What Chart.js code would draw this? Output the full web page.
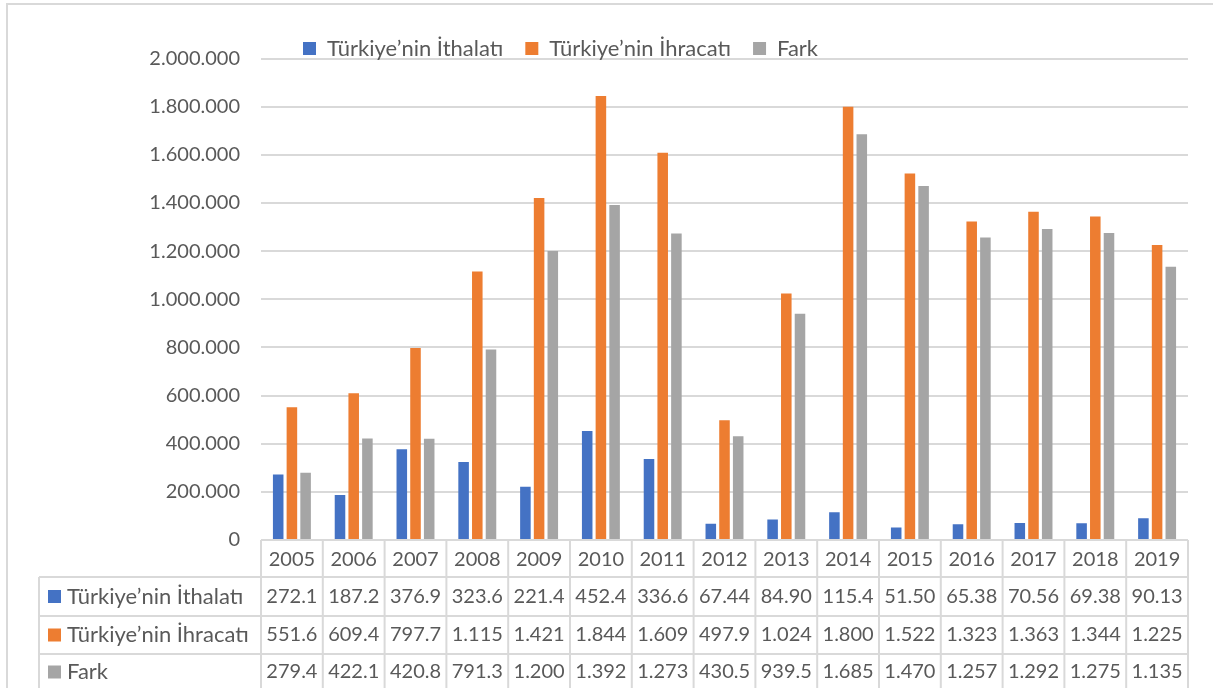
<!DOCTYPE html>
<html>
<head>
<meta charset="utf-8">
<script src="https://cdn.jsdelivr.net/npm/chart.js@4.4.0/dist/chart.umd.min.js"></script>
<style>
  html, body { margin: 0; padding: 0; background: #fff; }
  #wrap { width: 1213px; height: 688px; position: relative; }
</style>
</head>
<body>
<div id="wrap"><canvas id="tradeChart" width="1213" height="688"></canvas></div>
<script>
// =============================
// DATA
// =============================
const years = ['2005', '2006', '2007', '2008', '2009', '2010', '2011', '2012',
  '2013', '2014', '2015', '2016', '2017', '2018', '2019'];

const seriesNames = ['Türkiye’nin İthalatı', 'Türkiye’nin İhracatı', 'Fark'];

const ithalat = [272100, 187200, 376900, 323600, 221400, 452400, 336600, 67440,
  84900, 115400, 51500, 65380, 70560, 69380, 90130];

const ihracat = [551600, 609400, 797700, 1115000, 1421000, 1844000, 1609000, 497900,
  1024000, 1800000, 1522000, 1323000, 1363000, 1344000, 1225000];

const fark = [279400, 422100, 420800, 791300, 1200000, 1392000, 1273000, 430500,
  939500, 1685000, 1470000, 1257000, 1292000, 1275000, 1135000];

const yTicks = [0, 200000, 400000, 600000, 800000, 1000000, 1200000, 1400000,
  1600000, 1800000, 2000000];

const colors = ['#4472C4', '#ED7D31', '#A5A5A5'];
const textColor = '#595959';
const lineColor = '#d9d9d9';
const FONT = 'Lato';

// dotted thousands, e.g. 1844000 -> "1.844.000"
function dotted(v) {
  return Math.round(v).toString().replace(/\B(?=(\d{3})+(?!\d))/g, '.');
}
// table cells show only what fits (like the spreadsheet): "1.844", "272.1"
function cellText(v) {
  return dotted(v).slice(0, 5);
}

Chart.defaults.font.family = FONT;
Chart.defaults.font.size = 20;
Chart.defaults.color = textColor;

// =============================
// DATA TABLE + FRAME PLUGIN
// =============================
const dataTable = {
  id: 'dataTable',
  afterLayout(chart) {
    // put legend where the original has it
    const lg = chart.legend;
    const p = lg.options.labels.padding;
    const h = lg.height;
    lg.top = 47.5 - p - 10;
    lg.bottom = lg.top + h;
    const w = lg.width;
    lg.left = 303 - p;
    lg.right = lg.left + w;
  },
  beforeDraw(chart) {
    const ctx = chart.ctx;
    ctx.save();
    ctx.strokeStyle = lineColor;
    ctx.lineWidth = 2;
    ctx.beginPath();
    ctx.moveTo(7, chart.height);
    ctx.lineTo(7, 4);
    ctx.lineTo(chart.width, 4);
    ctx.stroke();
    ctx.restore();
  },
  afterDraw(chart) {
    const ctx = chart.ctx;
    const x = chart.scales.x;
    const area = chart.chartArea;
    const n = years.length;
    const cw = (area.right - area.left) / n;
    const tableLeft = 39;
    const rows = [area.bottom, 577, 616, 654, chart.height + 2];
    const sets = chart.data.datasets;

    ctx.save();
    ctx.strokeStyle = lineColor;
    ctx.lineWidth = 2;
    ctx.beginPath();
    // horizontal lines
    ctx.moveTo(area.left, rows[0]); ctx.lineTo(area.right, rows[0]);
    for (let r = 1; r < 4; r++) {
      ctx.moveTo(tableLeft, rows[r]); ctx.lineTo(area.right, rows[r]);
    }
    // vertical lines
    ctx.moveTo(tableLeft, rows[1]); ctx.lineTo(tableLeft, rows[4]);
    for (let i = 0; i <= n; i++) {
      const xx = i < n ? x.getPixelForValue(i) - cw / 2 : x.getPixelForValue(n - 1) + cw / 2;
      ctx.moveTo(xx, rows[0]); ctx.lineTo(xx, rows[4]);
    }
    ctx.stroke();

    ctx.fillStyle = textColor;
    ctx.font = '20px ' + FONT;
    ctx.textBaseline = 'middle';
    ctx.textAlign = 'center';
    // year row
    years.forEach((yr, i) => {
      ctx.fillText(yr, x.getPixelForValue(i), (rows[0] + rows[1]) / 2 + 1);
    });
    // series rows
    sets.forEach((ds, r) => {
      const cy = (rows[r + 1] + rows[r + 2]) / 2;
      ctx.fillStyle = ds.backgroundColor;
      ctx.fillRect(48, cy - 6.5, 13, 13);
      ctx.fillStyle = textColor;
      ctx.textAlign = 'left';
      ctx.font = '22px ' + FONT;
      ctx.fillText(ds.label, 67, cy);
      ctx.textAlign = 'center';
      ctx.font = '20px ' + FONT;
      ds.data.forEach((v, i) => {
        ctx.fillText(cellText(v), x.getPixelForValue(i), cy);
      });
    });
    ctx.restore();
  }
};

// =============================
// CHART
// =============================
const ctx = document.getElementById('tradeChart').getContext('2d');

window.tradeChart = new Chart(ctx, {
  type: 'bar',
  data: {
    labels: years,
    datasets: [
      { label: seriesNames[0], data: ithalat, backgroundColor: colors[0] },
      { label: seriesNames[1], data: ihracat, backgroundColor: colors[1] },
      { label: seriesNames[2], data: fark, backgroundColor: colors[2] }
    ]
  },
  options: {
    responsive: false,
    animation: false,
    devicePixelRatio: 1,
    layout: { padding: { left: 40, right: 25, top: 4.5, bottom: 148 } },
    datasets: {
      bar: { categoryPercentage: 0.665, barPercentage: 0.77, borderWidth: 0 }
    },
    plugins: {
      legend: {
        position: 'top',
        align: 'start',
        labels: {
          boxWidth: 13,
          boxHeight: 13,
          padding: 22,
          color: textColor,
          font: { size: 22, family: FONT }
        }
      },
      tooltip: { enabled: false }
    },
    scales: {
      x: {
        ticks: { display: false },
        grid: { display: false },
        border: { display: false },
        afterFit(s) { s.height = 0; }
      },
      y: {
        min: 0,
        max: yTicks[yTicks.length - 1],
        afterBuildTicks(s) { s.ticks = yTicks.map(v => ({ value: v })); },
        afterFit(s) { s.width = 221; },
        ticks: {
          padding: 21,
          color: textColor,
          font: { size: 20, family: FONT },
          callback: v => dotted(v)
        },
        grid: { color: lineColor, lineWidth: 2, drawTicks: false },
        border: { display: false }
      }
    }
  },
  plugins: [dataTable]
});
</script>
</body>
</html>
